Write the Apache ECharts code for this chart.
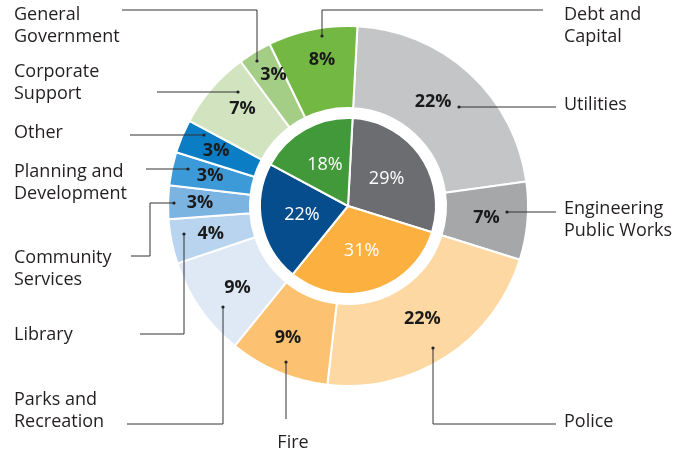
<!DOCTYPE html>
<html>
<head>
<meta charset="utf-8">
<script src="https://cdn.jsdelivr.net/npm/echarts@6/dist/echarts.min.js"></script>
<style>
  html, body { margin: 0; padding: 0; background: #ffffff; }
  #chart { width: 700px; height: 452px; }
</style>
</head>
<body>
<div id="chart"></div>
<script>
// Budget share by service area (outer ring) and by group (inner pie)
const categories = [
  'Utilities', 'Engineering\nPublic Works', 'Police', 'Fire',
  'Parks and\nRecreation', 'Library', 'Community\nServices',
  'Planning and\nDevelopment', 'Other', 'Corporate\nSupport',
  'General\nGovernment', 'Debt and\nCapital'
];
const shares = [22, 7, 22, 9, 9, 4, 3, 3, 3, 7, 3, 8];
const groupShares = [29, 31, 22, 18];

const outerColors = [
  '#c4c5c7', '#a6a7a9', '#fed8a3', '#fcc272', '#dfe8f5', '#b8d4ef',
  '#7bb3e1', '#3d9ad9', '#0b7dc5', '#d1e4bf', '#a4ce86', '#74b844'
];
const innerColors = ['#6c6d70', '#fcb040', '#054d8c', '#42993a'];

// Where each category name sits and how its leader line runs
const nameLayout = [
  { x: 564, y: 105, align: 'left',   line: [[459, 107], [556, 107]] },
  { x: 564, y: 220, align: 'left',   line: [[507, 212], [556, 212]] },
  { x: 564, y: 422, align: 'left',   line: [[433, 348], [433, 424], [556, 424]] },
  { x: 293, y: 443, align: 'center', line: [[286, 362], [286, 419]] },
  { x: 14,  y: 411, align: 'left',   line: [[223, 307], [223, 424], [127, 424]] },
  { x: 14,  y: 335, align: 'left',   line: [[184, 234], [184, 334], [140, 334]] },
  { x: 14,  y: 269, align: 'left',   line: [[174, 203], [150, 203], [150, 256], [131, 256]] },
  { x: 14,  y: 183, align: 'left',   line: [[188, 169], [146, 169]] },
  { x: 14,  y: 133, align: 'left',   line: [[204, 135], [130, 135]] },
  { x: 14,  y: 83,  align: 'left',   line: [[238, 92], [157, 92]] },
  { x: 14,  y: 26,  align: 'left',   line: [[257, 61], [257, 10], [122, 10]] },
  { x: 564, y: 26,  align: 'left',   line: [[322, 36], [322, 10], [543, 10]] }
];
// Small nudges for the percentage labels so they clear the leader dots
const percentNudge = [
  [-11, 0], [-3, 0], [-3, -6], [-5, 1], [6, 1], [2, 0],
  [-6, 0], [1, -1], [-1, 0], [2, -4], [-1, -10], [2, -7]
];

const FONT = '"Open Sans", "Noto Sans", sans-serif';
const center = [348, 206];
const startAngle = 87;

const chart = echarts.init(document.getElementById('chart'), null, { renderer: 'canvas' });

const outerData = categories.map((name, i) => ({
  name: name, value: shares[i], itemStyle: { color: outerColors[i] }
}));

chart.setOption({
  animation: false,
  backgroundColor: '#ffffff',
  series: [
    {
      // inner pie of group totals
      type: 'pie',
      center: center,
      radius: [0, 88],
      startAngle: startAngle,
      silent: true,
      avoidLabelOverlap: false,
      itemStyle: { borderColor: '#ffffff', borderWidth: 2 },
      label: {
        show: true, position: 'inside', formatter: '{c}%',
        color: '#ffffff', fontFamily: FONT, fontSize: 18, fontWeight: 'normal'
      },
      labelLine: { show: false },
      data: groupShares.map((v, i) => ({ value: v, itemStyle: { color: innerColors[i] } }))
    },
    {
      // outer ring with percentages
      type: 'pie',
      center: center,
      radius: [98, 180],
      startAngle: startAngle,
      silent: true,
      avoidLabelOverlap: false,
      itemStyle: { borderColor: '#ffffff', borderWidth: 2 },
      label: {
        show: true, position: 'inside', formatter: '{c}%',
        color: '#1a1a1a', fontFamily: FONT, fontSize: 18, fontWeight: 'bold'
      },
      labelLine: { show: false },
      labelLayout: function (params) {
        const n = percentNudge[params.dataIndex];
        return { dx: n[0], dy: n[1] };
      },
      data: outerData
    },
    {
      // category names with leader lines
      type: 'pie',
      z: 10,
      center: center,
      radius: [98, 180],
      startAngle: startAngle,
      silent: true,
      avoidLabelOverlap: false,
      itemStyle: { color: 'rgba(0,0,0,0)', borderWidth: 0 },
      label: {
        show: true, position: 'outside', formatter: '{b}',
        color: '#231f20', fontFamily: FONT, fontSize: 18, lineHeight: 22
      },
      labelLine: { show: true, lineStyle: { color: '#333333', width: 1 } },
      labelLayout: function (params) {
        const L = nameLayout[params.dataIndex];
        return {
          x: L.x, y: L.y, align: L.align, verticalAlign: 'middle',
          labelLinePoints: L.line, hideOverlap: false, moveOverlap: null
        };
      },
      data: categories.map((name, i) => ({ name: name, value: shares[i] }))
    }
  ],
  graphic: nameLayout.map(L => ({
    type: 'circle',
    shape: { cx: L.line[0][0], cy: L.line[0][1], r: 1.6 },
    style: { fill: '#222222' },
    silent: true,
    z: 100
  }))
});
</script>
</body>
</html>
